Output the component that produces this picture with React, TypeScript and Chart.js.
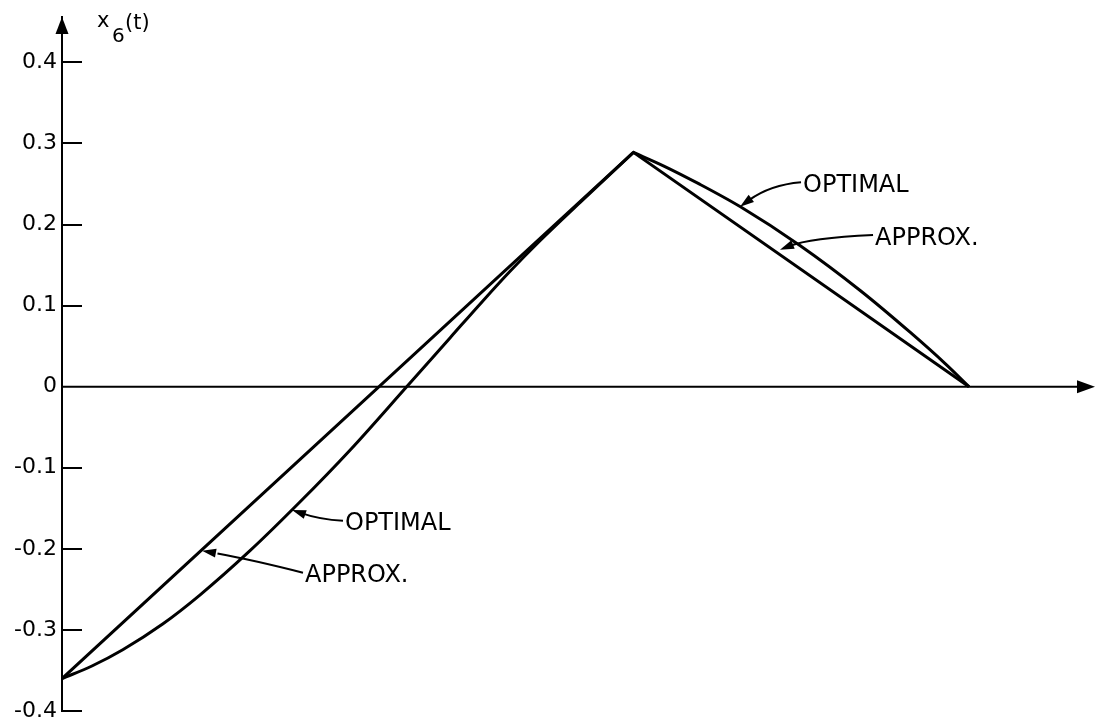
import { useEffect, useRef } from 'react';
import { Chart, registerables } from 'chart.js';

Chart.register(...registerables);

// Piecewise-linear approximate trajectory x6(t)
const T_APPROX = [0, 0.63, 1];
const V_APPROX = [-0.36, 0.289, 0];

// Optimal trajectory, rising branch (up to the switching instant)
const T_OPT_RISE = [0, 0.033, 0.067, 0.111, 0.152, 0.207, 0.262, 0.318, 0.38, 0.428, 0.463, 0.494, 0.527, 0.571, 0.63];
const V_OPT_RISE = [-0.36, -0.3445, -0.3244, -0.2927, -0.257, -0.2026, -0.1426, -0.0777, 0, 0.0605, 0.1046, 0.1424, 0.18, 0.227, 0.289];

// Optimal trajectory, falling branch
const T_OPT_FALL = [0.63, 0.663, 0.703, 0.748, 0.814, 0.88, 0.935, 0.974, 1];
const V_OPT_FALL = [0.289, 0.2725, 0.2498, 0.2219, 0.1739, 0.1187, 0.0672, 0.0282, 0];

const Y_TICKS = [-0.4, -0.3, -0.2, -0.1, 0, 0.1, 0.2, 0.3, 0.4];
const Y_MIN = -0.4;
const Y_MAX = 0.456;
const T_MAX = 1.14;

// Callout labels: text anchor (left, vertical centre), bend control point and arrow tip, in data units
const CALLOUT_LABELS = ['OPTIMAL', 'APPROX.', 'OPTIMAL', 'APPROX.'];
const CALLOUT_TEXT_AT = [[0.817, 0.251], [0.8964, 0.186], [0.312, -0.1665], [0.2679, -0.2306]];
const CALLOUT_BEND = [[0.7806, 0.249], [0.8247, 0.1837], [0.2845, -0.164], [0.2111, -0.2138]];
const CALLOUT_TIP = [[0.7475, 0.222], [0.7916, 0.169], [0.2536, -0.152], [0.1544, -0.2022]];

const INK = '#000000';
const FONT = '"DejaVu Sans", "Liberation Sans", sans-serif';

const toXY = (ts: number[], vs: number[]) => ts.map((t, i) => ({ x: t, y: vs[i] }));

function arrowHead(ctx: CanvasRenderingContext2D, tipX: number, tipY: number, fromX: number, fromY: number, len: number, half: number) {
  const a = Math.atan2(tipY - fromY, tipX - fromX);
  const bx = tipX - len * Math.cos(a);
  const by = tipY - len * Math.sin(a);
  ctx.beginPath();
  ctx.moveTo(tipX, tipY);
  ctx.lineTo(bx + half * Math.sin(a), by - half * Math.cos(a));
  ctx.lineTo(bx - half * Math.sin(a), by + half * Math.cos(a));
  ctx.closePath();
  ctx.fill();
}

const axisDecor = {
  id: 'axisDecor',
  afterDraw(chart: any) {
    const { ctx, chartArea, scales } = chart;
    const xs = scales.x;
    const ys = scales.y;
    const x0 = xs.getPixelForValue(0);
    const y0 = ys.getPixelForValue(0);
    ctx.save();
    ctx.strokeStyle = INK;
    ctx.fillStyle = INK;

    // horizontal time axis with arrow
    ctx.lineWidth = 2;
    ctx.beginPath();
    ctx.moveTo(x0, y0);
    ctx.lineTo(chartArea.right - 8, y0);
    ctx.stroke();
    arrowHead(ctx, chartArea.right - 1, y0, x0, y0, 18, 6.5);

    // vertical axis arrow
    arrowHead(ctx, x0, chartArea.top, x0, chartArea.bottom, 17, 6.5);

    // tick marks pointing into the plot
    ctx.lineWidth = 2;
    Y_TICKS.forEach((v) => {
      if (v === 0) return;
      const py = Math.round(ys.getPixelForValue(v));
      ctx.beginPath();
      ctx.moveTo(x0, py);
      ctx.lineTo(x0 + 20, py);
      ctx.stroke();
    });

    // axis title x6(t)
    ctx.textAlign = 'left';
    ctx.textBaseline = 'alphabetic';
    ctx.font = `21px ${FONT}`;
    ctx.fillText('x', x0 + 35, chartArea.top + 10);
    ctx.font = `20px ${FONT}`;
    ctx.fillText('6', x0 + 50, chartArea.top + 25);
    ctx.font = `21px ${FONT}`;
    ctx.fillText('(t)', x0 + 63, chartArea.top + 12);

    // callouts
    ctx.font = `24px ${FONT}`;
    CALLOUT_LABELS.forEach((label, i) => {
      const tx = xs.getPixelForValue(CALLOUT_TEXT_AT[i][0]);
      const ty = ys.getPixelForValue(CALLOUT_TEXT_AT[i][1]);
      const cx = xs.getPixelForValue(CALLOUT_BEND[i][0]);
      const cy = ys.getPixelForValue(CALLOUT_BEND[i][1]);
      const px = xs.getPixelForValue(CALLOUT_TIP[i][0]);
      const py = ys.getPixelForValue(CALLOUT_TIP[i][1]);
      ctx.fillText(label, tx, ty + 8.7);
      ctx.lineWidth = 2;
      ctx.beginPath();
      ctx.moveTo(tx - 2, ty - 1);
      ctx.quadraticCurveTo(cx, cy, px + (cx - px) * 0.3, py + (cy - py) * 0.3);
      ctx.stroke();
      arrowHead(ctx, px, py, cx, cy, 14, 4.5);
    });

    ctx.restore();
  },
};

export default function App() {
  const canvasRef = useRef<HTMLCanvasElement | null>(null);

  useEffect(() => {
    if (!canvasRef.current) return;
    const lineStyle = {
      borderColor: INK,
      borderWidth: 3,
      pointRadius: 0,
      fill: false,
      borderJoinStyle: 'miter' as const,
    };
    const chart = new Chart(canvasRef.current, {
      type: 'line',
      data: {
        datasets: [
          { label: 'Approx.', data: toXY(T_APPROX, V_APPROX), tension: 0, ...lineStyle },
          { label: 'Optimal', data: toXY(T_OPT_RISE, V_OPT_RISE), cubicInterpolationMode: 'monotone', ...lineStyle },
          { label: 'Optimal (fall)', data: toXY(T_OPT_FALL, V_OPT_FALL), cubicInterpolationMode: 'monotone', ...lineStyle },
        ],
      },
      options: {
        animation: false,
        responsive: true,
        maintainAspectRatio: false,
        layout: { padding: { top: 17, right: 0, bottom: 12, left: 0 } },
        plugins: { legend: { display: false }, tooltip: { enabled: false } },
        scales: {
          x: { type: 'linear', min: 0, max: T_MAX, display: false },
          y: {
            type: 'linear',
            min: Y_MIN,
            max: Y_MAX,
            afterBuildTicks: (scale: any) => {
              scale.ticks = Y_TICKS.map((v) => ({ value: v }));
            },
            afterFit: (scale: any) => {
              scale.width = 62;
              scale.paddingTop = 0;
              scale.paddingBottom = 0;
            },
            grid: { display: false, drawTicks: false },
            border: { display: true, color: INK, width: 2 },
            ticks: {
              color: INK,
              padding: 5,
              font: { family: FONT, size: 22 },
              callback: (v: any) => (Number(v) === 0 ? '0' : Number(v).toFixed(1)),
            },
          },
        },
      },
      plugins: [axisDecor],
    });
    return () => chart.destroy();
  }, []);

  return (
    <div style={{ position: 'absolute', left: 0, top: 0, width: 1096, height: 723, background: '#fff' }}>
      <canvas ref={canvasRef} />
    </div>
  );
}
